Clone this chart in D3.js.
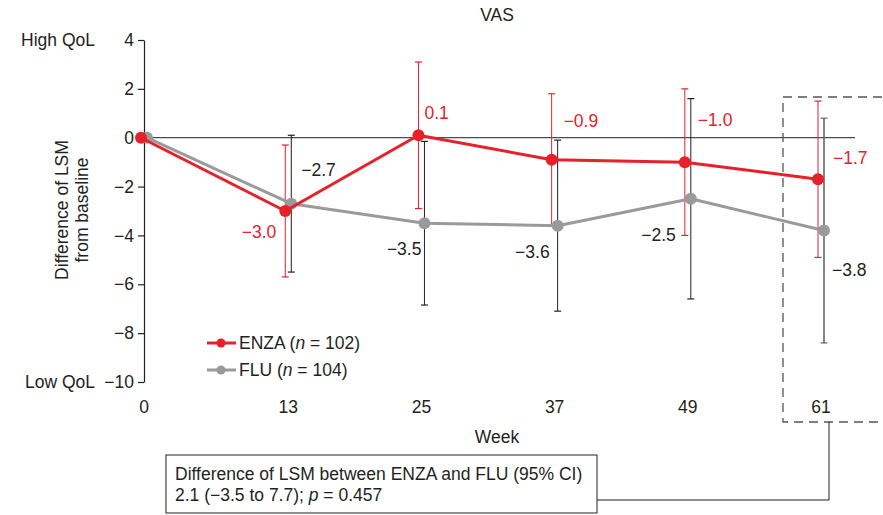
<!DOCTYPE html>
<html>
<head>
<meta charset="utf-8">
<script src="https://cdn.jsdelivr.net/npm/d3@7"></script>
<style>
  html, body { margin: 0; padding: 0; background: #fff; }
  svg { display: block; font-family: "Liberation Sans", Arial, sans-serif; }
</style>
</head>
<body>
<svg id="chart" width="883" height="515"></svg>
<script>
// Weeks on study and least-squares mean change from baseline (VAS)
const weeks = [0, 13, 25, 37, 49, 61];
const enzaMean = [0, -3.0, 0.1, -0.9, -1.0, -1.7];
const enzaLow  = [0, -5.7, -2.9, -3.6, -4.0, -4.9];
const enzaHigh = [0, -0.3, 3.1, 1.8, 2.0, 1.5];
const fluMean  = [0, -2.7, -3.5, -3.6, -2.5, -3.8];
const fluLow   = [0, -5.5, -6.85, -7.1, -6.6, -8.4];
const fluHigh  = [0, 0.1, -0.15, -0.1, 1.6, 0.8];
const yTicks = [4, 2, 0, -2, -4, -6, -8, -10];
const seriesNames = ["ENZA", "FLU"];
const seriesN = [102, 104];
const diffText = ["Difference of LSM between ENZA and FLU (95% CI)", "2.1 (\u22123.5 to 7.7); "];
const diffP = "0.457";

// Label placement around each point: [dx, dy, anchor]
const enzaLabelPos = [null, [-9, 27, "end"], [6, -16, "start"], [12, -33, "start"], [13, -36, "start"], [15, -15, "start"]];
const fluLabelPos  = [null, [10, -28, "start"], [-3, 32, "end"], [-8, 32, "end"], [-15, 42, "end"], [8, 45, "start"]];

const RED = "#e8202a";
const GREY = "#9a9a9c";
const INK = "#231f20";
const FS = 17.5;

const svg = d3.select("#chart");
const x = d3.scaleLinear().domain([0, 61]).range([144, 821]);
const y = d3.scaleLinear().domain([-10, 4]).range([382, 40]);
const fmt = d3.format(".1f");
const minus = v => fmt(v).replace("-", "\u2212");

// Zero reference line
svg.append("line")
  .attr("x1", x(0)).attr("x2", 855)
  .attr("y1", y(0)).attr("y2", y(0))
  .attr("stroke", INK).attr("stroke-width", 1);

// Y axis
const yAxis = svg.append("g")
  .attr("transform", `translate(${x(0)},0)`)
  .call(d3.axisLeft(y).tickValues(yTicks).tickSize(6).tickSizeOuter(0).tickPadding(4)
        .tickFormat(d => String(d).replace("-", "\u2212")));
yAxis.select(".domain").attr("stroke", INK).attr("stroke-width", 1.2);
yAxis.selectAll(".tick line").attr("stroke", INK).attr("stroke-width", 1.2);
yAxis.selectAll(".tick text").attr("fill", INK).style("font-size", FS + "px")
  .style("font-family", "Liberation Sans, Arial, sans-serif");

svg.append("text").attr("x", 95).attr("y", y(4) + 6).attr("text-anchor", "end")
  .attr("fill", INK).style("font-size", FS + "px").text("High QoL");
svg.append("text").attr("x", 95).attr("y", y(-10) + 6).attr("text-anchor", "end")
  .attr("fill", INK).style("font-size", FS + "px").text("Low QoL");

// Y axis title
const yt = svg.append("text").attr("transform", "translate(68,210) rotate(-90)")
  .attr("text-anchor", "middle").attr("fill", INK).style("font-size", FS + "px");
yt.append("tspan").attr("x", 0).attr("dy", 0).text("Difference of LSM");
yt.append("tspan").attr("x", 0).attr("dy", 20).text("from baseline");

// X tick labels (no axis line)
svg.append("g").selectAll("text").data(weeks).join("text")
  .attr("x", d => x(d)).attr("y", 413)
  .attr("text-anchor", "middle").attr("fill", INK).style("font-size", FS + "px")
  .text(d => d);
svg.append("text").attr("x", 497).attr("y", 443).attr("text-anchor", "middle")
  .attr("fill", INK).style("font-size", FS + "px").text("Week");

// Title
svg.append("text").attr("x", 497).attr("y", 21).attr("text-anchor", "middle")
  .attr("fill", INK).style("font-size", FS + "px").text("VAS");

// Highlight box around final visit
svg.append("rect").attr("x", 783).attr("y", 97).attr("width", 140).attr("height", 325)
  .attr("fill", "none").attr("stroke", "#555").attr("stroke-width", 1.3)
  .attr("stroke-dasharray", "9,6");

// Annotation box and connector
svg.append("polyline")
  .attr("points", `597,500 829,500 829,422`)
  .attr("fill", "none").attr("stroke", INK).attr("stroke-width", 1);
svg.append("rect").attr("x", 166).attr("y", 455).attr("width", 431).attr("height", 58)
  .attr("fill", "#fff").attr("stroke", INK).attr("stroke-width", 1);
svg.append("text").attr("x", 175).attr("y", 480).attr("fill", INK)
  .style("font-size", FS + "px").text(diffText[0]);
const t2 = svg.append("text").attr("x", 175).attr("y", 501).attr("fill", INK)
  .style("font-size", FS + "px");
t2.append("tspan").text(diffText[1]);
t2.append("tspan").style("font-style", "italic").text("p");
t2.append("tspan").text(" = " + diffP);

// Series
const series = [
  { name: seriesNames[0], n: seriesN[0], mean: enzaMean, lo: enzaLow, hi: enzaHigh,
    color: RED, bar: RED, dodge: -3, labels: enzaLabelPos, labelColor: RED },
  { name: seriesNames[1], n: seriesN[1], mean: fluMean, lo: fluLow, hi: fluHigh,
    color: GREY, bar: INK, dodge: 3, labels: fluLabelPos, labelColor: INK }
];

// Error bars (FLU drawn first, ENZA on top)
series.slice().reverse().forEach(s => {
  const g = svg.append("g");
  weeks.forEach((w, i) => {
    if (i === 0) return;
    const cx = x(w) + s.dodge;
    const last = i === weeks.length - 1 && s.name === "FLU";
    const col = last ? "#666" : s.bar;
    const sw = last ? 1.6 : 1;
    g.append("line").attr("x1", cx).attr("x2", cx)
      .attr("y1", y(s.hi[i])).attr("y2", y(s.lo[i]))
      .attr("stroke", col).attr("stroke-width", sw);
    [s.hi[i], s.lo[i]].forEach(v => {
      g.append("line").attr("x1", cx - 3.5).attr("x2", cx + 3.5)
        .attr("y1", y(v)).attr("y2", y(v))
        .attr("stroke", col).attr("stroke-width", 1.2);
    });
  });
});

// Lines and points: FLU beneath ENZA
series.slice().reverse().forEach(s => {
  const line = d3.line().x((d, i) => x(weeks[i]) + s.dodge).y(d => y(d));
  svg.append("path").datum(s.mean).attr("d", line)
    .attr("fill", "none").attr("stroke", s.color).attr("stroke-width", 3)
    .attr("stroke-linejoin", "round");
  svg.append("g").selectAll("circle").data(s.mean).join("circle")
    .attr("cx", (d, i) => x(weeks[i]) + s.dodge).attr("cy", d => y(d))
    .attr("r", 6).attr("fill", s.color);
});

// Value labels
series.forEach(s => {
  s.mean.forEach((v, i) => {
    const p = s.labels[i];
    if (!p) return;
    svg.append("text")
      .attr("x", x(weeks[i]) + s.dodge + p[0]).attr("y", y(v) + p[1])
      .attr("text-anchor", p[2]).attr("fill", s.labelColor)
      .style("font-size", FS + "px").text(minus(v));
  });
});

// Legend
series.forEach((s, k) => {
  const ly = 343 + k * 27;
  const g = svg.append("g");
  g.append("line").attr("x1", 207).attr("x2", 236).attr("y1", ly).attr("y2", ly)
    .attr("stroke", s.color).attr("stroke-width", 3);
  g.append("circle").attr("cx", 221).attr("cy", ly).attr("r", 4.5).attr("fill", s.color);
  const t = g.append("text").attr("x", 239).attr("y", ly + 6).attr("fill", INK)
    .style("font-size", FS + "px");
  t.append("tspan").text(s.name + " (");
  t.append("tspan").style("font-style", "italic").text("n");
  t.append("tspan").text(" = " + s.n + ")");
});
</script>
</body>
</html>
